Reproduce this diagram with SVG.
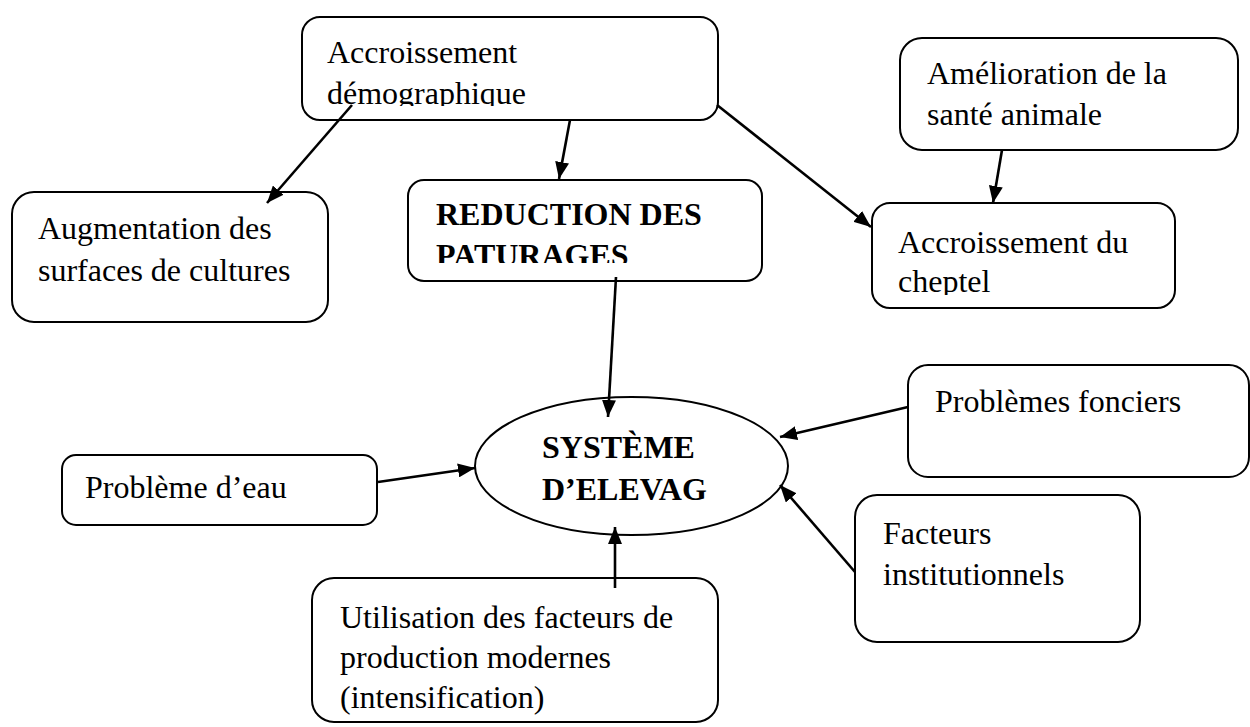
<svg xmlns="http://www.w3.org/2000/svg" width="1250" height="727" viewBox="0 0 1250 727">
<style>
.box{fill:#fff;stroke:#000;stroke-width:2}
.t{font-family:"Liberation Serif","Times New Roman",serif;font-size:32px;fill:#000}
.b{font-weight:bold}
.c{stroke:#000;stroke-width:2.6;fill:none;marker-end:url(#ah)}
</style>
<defs>
<marker id="ah" markerUnits="userSpaceOnUse" markerWidth="18" markerHeight="14" refX="17" refY="7" orient="auto">
<path d="M0,0 L17,7 L0,14 z" fill="#000"/>
</marker>
<clipPath id="c1"><rect x="300" y="15" width="420" height="91"/></clipPath>
<clipPath id="c2"><rect x="406" y="178" width="358" height="85"/></clipPath>
<clipPath id="c5"><rect x="870" y="200" width="308" height="95"/></clipPath>
</defs>
<rect width="1250" height="727" fill="#fff"/>
<g id="n-accroissement-demo">
<rect class="box" x="302" y="17" width="416" height="103" rx="18"/>
<g clip-path="url(#c1)"><text class="t" x="327" y="63">Accroissement</text><text class="t" x="327" y="104">démographique</text></g>
</g>
<g id="n-reduction">
<rect class="box" x="408" y="180" width="354" height="101" rx="16"/>
<g clip-path="url(#c2)"><text class="t b" x="436" y="225">REDUCTION DES</text><text class="t b" x="436" y="266">PATURAGES</text></g>
</g>
<g id="n-augmentation">
<rect class="box" x="12" y="192" width="316" height="130" rx="22"/>
<text class="t" x="38" y="239">Augmentation des</text><text class="t" x="38" y="281">surfaces de cultures</text>
</g>
<g id="n-amelioration">
<rect class="box" x="900" y="38" width="338" height="112" rx="22"/>
<text class="t" x="927" y="84">Amélioration de la</text><text class="t" x="927" y="125">santé animale</text>
</g>
<g id="n-cheptel">
<rect class="box" x="872" y="203" width="303" height="105" rx="18"/>
<g clip-path="url(#c5)"><text class="t" x="898" y="253">Accroissement du</text><text class="t" x="898" y="292">cheptel</text></g>
</g>
<g id="n-fonciers">
<rect class="box" x="908" y="365" width="341" height="112" rx="20"/>
<text class="t" x="935" y="412">Problèmes fonciers</text>
</g>
<g id="n-institutionnels">
<rect class="box" x="855" y="495" width="285" height="147" rx="22"/>
<text class="t" x="883" y="544">Facteurs</text><text class="t" x="883" y="585">institutionnels</text>
</g>
<g id="n-eau">
<rect class="box" x="62" y="455" width="315" height="70" rx="14"/>
<text class="t" x="85" y="498">Problème d’eau</text>
</g>
<g id="n-utilisation">
<rect class="box" x="312" y="578" width="406" height="144" rx="22"/>
<text class="t" x="340" y="628">Utilisation des facteurs de</text><text class="t" x="340" y="668">production modernes</text><text class="t" x="340" y="708">(intensification)</text>
</g>
<g id="n-systeme">
<ellipse class="box" cx="631.5" cy="466" rx="156.5" ry="69"/>
<text class="t b" x="542" y="458">SYSTÈME</text><text class="t b" x="542" y="500">D’ELEVAG</text>
</g>
<g id="connectors">
<line class="c" x1="352" y1="105" x2="267" y2="203"/>
<line class="c" x1="570" y1="120" x2="559" y2="179"/>
<line class="c" x1="717" y1="105" x2="871" y2="227"/>
<line class="c" x1="1002" y1="150" x2="993" y2="203"/>
<line class="c" x1="616" y1="277" x2="608" y2="417"/>
<line class="c" x1="378" y1="482" x2="475" y2="468"/>
<line class="c" x1="615" y1="588" x2="615" y2="527"/>
<line class="c" x1="908" y1="407" x2="780" y2="437"/>
<line class="c" x1="855" y1="572" x2="780" y2="485"/>
</g>
</svg>
